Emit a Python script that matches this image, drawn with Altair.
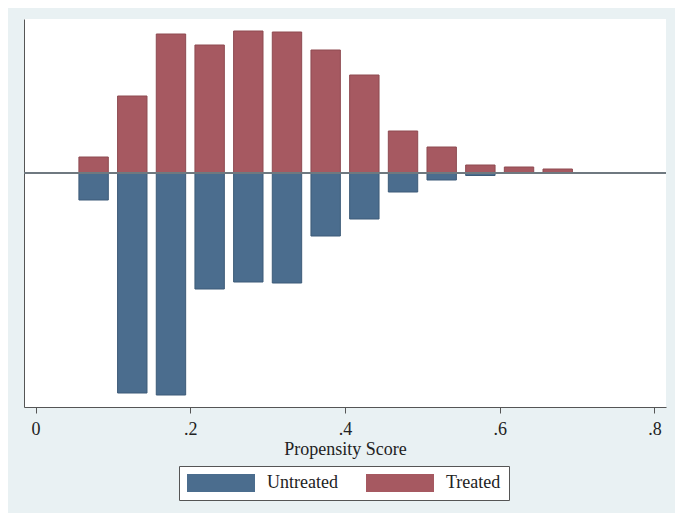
import altair as alt
import pandas as pd

# Bin midpoints of the propensity score histogram
bin_mid = [0.075, 0.125, 0.175, 0.225, 0.275, 0.325, 0.375, 0.425,
           0.475, 0.525, 0.575, 0.625, 0.675]
# Bar heights (arbitrary density units)
treated = [0.16, 0.77, 1.39, 1.28, 1.42, 1.41, 1.23, 0.98, 0.42, 0.26, 0.08, 0.06, 0.04]
untreated = [0.27, 2.20, 2.22, 1.16, 1.09, 1.10, 0.63, 0.46, 0.19, 0.07, 0.025, 0.0, 0.0]
groups = ["Untreated", "Treated"]
x_ticks = [0, 0.2, 0.4, 0.6, 0.8]
bar_width = 0.038

rows = []
for m, t, u in zip(bin_mid, treated, untreated):
    if t > 0:
        rows.append({"lo": m - bar_width / 2, "hi": m + bar_width / 2, "value": t, "group": "Treated"})
    if u > 0:
        rows.append({"lo": m - bar_width / 2, "hi": m + bar_width / 2, "value": -u, "group": "Untreated"})
df = pd.DataFrame(rows)

fill_scale = alt.Scale(domain=groups, range=["#4b6d8e", "#a65961"])
stroke_scale = alt.Scale(domain=groups, range=["#3d5b78", "#8e4a51"])

font = "Liberation Serif"

bars = alt.Chart(df).mark_bar(strokeWidth=1).encode(
    x=alt.X("lo:Q", scale=alt.Scale(domain=[-0.015, 0.815], nice=False, zero=False),
            axis=alt.Axis(values=x_ticks, title="Propensity Score", grid=False,
                          labelExpr="datum.value == 0 ? '0' : replace(format(datum.value, '.1f'), '0.', '.')",
                          tickSize=6, labelPadding=7, titlePadding=2,
                          domainColor="#555555", tickColor="#555555",
                          labelFont=font, titleFont=font, labelFontSize=18, titleFontSize=18,
                          titleFontWeight="normal", labelColor="#222222", titleColor="#222222")),
    x2="hi:Q",
    y=alt.Y("value:Q", stack=None, scale=alt.Scale(domain=[-2.34, 1.54], nice=False),
            axis=alt.Axis(labels=False, ticks=False, title=None, grid=False, domainColor="#555555")),
    y2=alt.datum(0),
    fill=alt.Fill("group:N", scale=fill_scale,
                  legend=alt.Legend(title=None, orient="none", legendX=155, legendY=447,
                                    direction="horizontal")),
    stroke=alt.Stroke("group:N", scale=stroke_scale, legend=None),
)

zero = alt.Chart(df).mark_rule(color="#6f7a80", strokeWidth=1.5).encode(y=alt.datum(0))

chart = alt.layer(bars, zero).properties(
    width=642, height=388,
    background="#e9f1f3",
    padding={"left": 16, "top": 11, "right": 9, "bottom": 106},
    autosize=alt.AutoSizeParams(type="none"),
).configure_view(fill="white", stroke=None).configure_legend(
    symbolType="M-1,-0.265H1V0.265H-1Z",
    symbolSize=4624,
    clipHeight=18,
    symbolStrokeWidth=0,
    symbolOpacity=1,
    labelFont=font, labelFontSize=18, labelColor="#222222",
    labelOffset=12, columnPadding=28,
    padding=8, strokeColor="#555555", fillColor="white",
)

chart.save("out.html", embed_options={"renderer": "svg", "actions": False})
